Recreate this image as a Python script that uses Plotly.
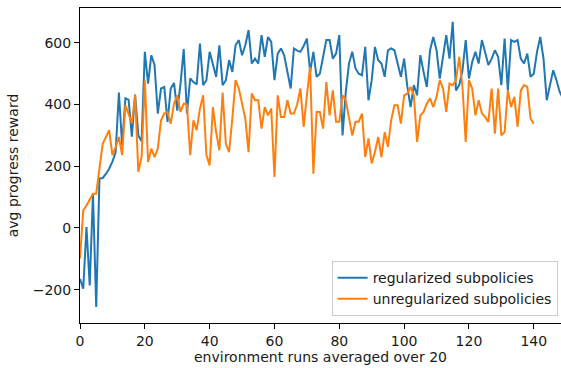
import plotly.graph_objects as go

# regularized subpolicies (blue), index 0..149
regularized = [
    -165, -197, 3, -186, 111, -256, 160, 162, 175, 192,
    215, 245, 439, 268, 420, 415, 296, 432, 300, 281,
    571, 468, 560, 528, 371, 452, 457, 344, 452, 470,
    380, 465, 580, 371, 485, 473, 465, 598, 463, 479,
    571, 527, 490, 592, 463, 479, 544, 506, 592, 609,
    560, 592, 641, 533, 549, 533, 625, 555, 619, 603,
    479, 565, 582, 560, 500, 452, 582, 575, 571, 590,
    614, 506, 571, 490, 500, 560, 609, 609, 549, 565,
    625, 300, 441, 533, 571, 517, 500, 495, 587, 414,
    479, 587, 544, 533, 490, 576, 582, 576, 528, 490,
    549, 457, 392, 463, 430, 560, 506, 457, 576, 619,
    576, 484, 555, 625, 549, 668, 446, 463, 511, 609,
    484, 538, 571, 533, 609, 571, 528, 549, 576, 555,
    463, 614, 446, 609, 603, 609, 549, 533, 565, 490,
    500, 571, 619, 549, 414, 463, 511, 479, 441, 420,
]

# unregularized subpolicies (orange), index 0..140
unregularized = [
    -99, 57, 73, 90, 111, 111, 192, 273, 295, 317,
    236, 262, 295, 236, 398, 366, 340, 430, 182, 230,
    479, 214, 257, 230, 257, 349, 371, 376, 338, 403,
    430, 376, 403, 400, 236, 349, 317, 387, 430, 236,
    203, 392, 311, 252, 439, 273, 246, 355, 479, 452,
    400, 355, 246, 436, 414, 414, 322, 392, 365, 387,
    165, 430, 360, 360, 414, 371, 371, 400, 452, 328,
    430, 522, 176, 376, 376, 322, 473, 365, 446, 344,
    344, 430, 414, 355, 300, 344, 344, 371, 230, 290,
    209, 246, 295, 230, 311, 263, 349, 398, 398, 338,
    430, 436, 457, 430, 279, 365, 376, 403, 420, 392,
    425, 479, 452, 376, 468, 463, 479, 555, 457, 279,
    479, 452, 365, 414, 371, 360, 344, 452, 306, 452,
    300, 311, 446, 392, 425, 328, 446, 463, 457, 355,
    338,
]

x_ticks = [0, 20, 40, 60, 80, 100, 120, 140]
y_ticks = [-200, 0, 200, 400, 600]

FONT = "DejaVu Sans"
TXT = "#1a1a1a"
FS = 14

fig = go.Figure()
fig.add_trace(go.Scatter(
    x=list(range(len(regularized))), y=regularized, mode="lines",
    name="regularized subpolicies",
    line=dict(color="#1f77b4", width=2),
))
fig.add_trace(go.Scatter(
    x=list(range(len(unregularized))), y=unregularized, mode="lines",
    name="unregularized subpolicies",
    line=dict(color="#ff7f0e", width=2),
))

axis_common = dict(
    showgrid=False, zeroline=False, showline=True, linecolor="black",
    linewidth=1, ticks="outside", ticklen=5, tickwidth=1, tickcolor="black",
    tickfont=dict(family=FONT, size=FS, color=TXT),
)

fig.update_layout(
    width=561, height=368,
    margin=dict(l=80, r=0, t=8, b=45),
    paper_bgcolor="white", plot_bgcolor="white",
    font=dict(family=FONT, size=FS, color=TXT),
    showlegend=True,
    legend=dict(
        x=0.993, y=0.022, xanchor="right", yanchor="bottom",
        bgcolor="rgba(255,255,255,0.85)", bordercolor="#cccccc", borderwidth=1,
        font=dict(family=FONT, size=FS, color=TXT),
        itemwidth=30, tracegroupgap=0,
    ),
)
fig.update_xaxes(
    range=[0, 148.4], tickvals=x_ticks, mirror=True,
    title=dict(text="environment runs averaged over 20",
               font=dict(family=FONT, size=FS, color=TXT), standoff=2),
    **axis_common,
)
fig.update_yaxes(
    range=[-308, 713], tickvals=y_ticks,
    title=dict(text="avg progress reward",
               font=dict(family=FONT, size=FS, color=TXT), standoff=10),
    **axis_common,
)

fig.write_html("out.html")
